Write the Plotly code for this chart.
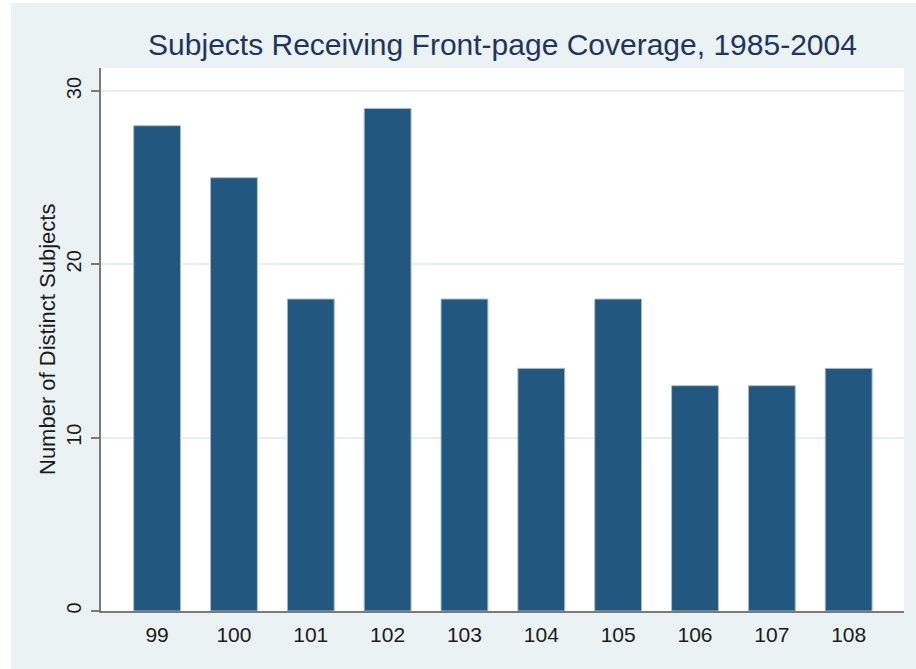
import plotly.graph_objects as go

congress = ["99", "100", "101", "102", "103", "104", "105", "106", "107", "108"]
subjects = [28, 25, 18, 29, 18, 14, 18, 13, 13, 14]
y_ticks = [0, 10, 20, 30]

W, H = 916, 669
L, R, T, B = 101, 12, 68, 58
pw, ph = W - L - R, H - T - B

def px_x(p):
    return (p - L) / pw

def px_y(p):
    return (H - B - p) / ph

idx = list(range(len(congress)))

fig = go.Figure(go.Bar(
    x=idx, y=subjects, width=0.61,
    marker=dict(color="#22587F", line=dict(color="#A9BDCE", width=1)),
))

tint = "#EAF2F3"
fig.update_layout(
    width=W, height=H,
    margin=dict(l=L, r=R, t=T, b=B, autoexpand=False),
    paper_bgcolor=tint, plot_bgcolor="white",
    showlegend=False,
    font=dict(family="Liberation Sans, Arial, sans-serif", color="#1a1a1a"),
    title=dict(text="Subjects Receiving Front-page Coverage, 1985-2004",
               font=dict(size=30, color="#1E3560"),
               x=0.5, xref="paper", xanchor="center",
               y=1 - 44 / H, yref="container", yanchor="middle"),
    xaxis=dict(range=[-0.73, 9.72], tickmode="array", tickvals=idx, ticktext=congress,
               showline=True, linecolor="#7a7a7a", linewidth=1.5,
               ticks="", showgrid=False, zeroline=False,
               tickfont=dict(size=21), ticklabelstandoff=4),
    yaxis=dict(range=[0, 31.33], tickmode="array", tickvals=y_ticks,
               showline=True, linecolor="#7a7a7a", linewidth=1.5,
               ticks="outside", ticklen=8, tickwidth=1.5, tickcolor="#7a7a7a",
               showgrid=True, gridcolor="#E6EFF0", gridwidth=1.5, zeroline=False,
               tickangle=-90, tickfont=dict(size=20), ticklabelstandoff=2),
    shapes=[
        dict(type="rect", xref="paper", yref="paper", x0=px_x(0), x1=px_x(11),
             y0=px_y(H), y1=px_y(0), fillcolor="white", line=dict(width=0), layer="above"),
        dict(type="rect", xref="paper", yref="paper", x0=px_x(0), x1=px_x(W),
             y0=px_y(3), y1=px_y(0), fillcolor="white", line=dict(width=0), layer="above"),
    ],
    annotations=[
        dict(text="Number of Distinct Subjects", textangle=-90, showarrow=False,
             xref="paper", yref="paper", x=px_x(47.5), y=0.5,
             xanchor="center", yanchor="middle", font=dict(size=22, color="#1a1a1a")),
    ],
)

fig.write_html("out.html", config={"displayModeBar": False},
               post_script="document.body.style.margin='0';document.body.style.overflow='hidden';")
